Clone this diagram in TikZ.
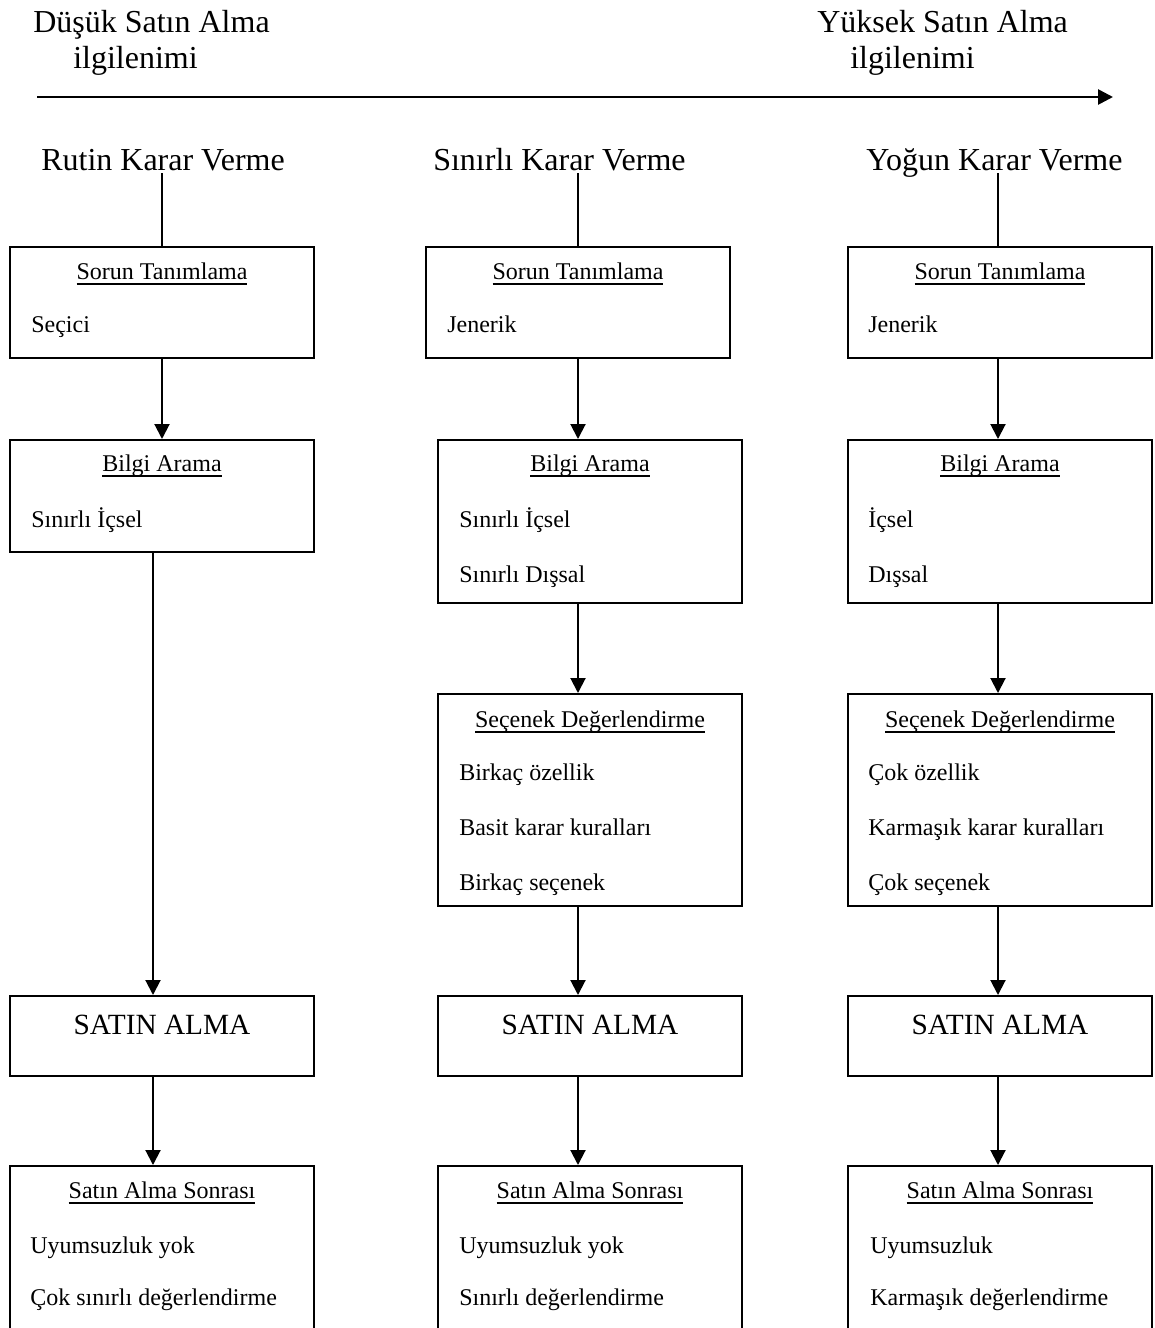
\documentclass[tikz,border=0pt]{standalone}
\usepackage{fontspec}
\setmainfont{Liberation Serif}
\usetikzlibrary{arrows.meta}

% underline drawn a fixed distance below the baseline
\newcommand\hdline[1]{\setbox0\hbox{#1}\rlap{\rule[-4.2pt]{\wd0}{0.9pt}}\box0}

\tikzset{
  panel/.style={draw, line width=1.5pt, inner sep=0pt},
  link/.style={line width=1.5pt},
  flow/.style={line width=1.5pt, -{Triangle[length=11.25pt,width=11.25pt]}},
  axis/.style={line width=2pt, -{Triangle[length=11.25pt,width=11.25pt]}},
  bigtxt/.style={inner sep=0pt, font=\fontsize{24}{28}\selectfont},
  txt/.style={inner sep=0pt, font=\fontsize{18}{22}\selectfont},
  buytxt/.style={inner sep=0pt, font=\fontsize{22}{26}\selectfont},
}

% box given by its left, top, right and bottom edges
\newcommand\panelbox[5]{%
  \node[panel, minimum width={(#4-#2)*0.75pt}, minimum height={(#5-#3)*0.75pt}]
    (#1) at ({(#2+#4)/2},{(#3+#5)/2}) {};}
\newcommand\heading[4]{\node[txt, anchor=base] (#1) at (#2,#3) {\hdline{#4}};}
\newcommand\itm[4]{\node[txt, anchor=base west] (#1) at (#2,#3) {#4};}

\begin{document}
\begin{tikzpicture}[x=0.75pt, y=-0.75pt]
\useasboundingbox (0,0) rectangle (1154,1328);
\fill[white] (0,0) rectangle (1154,1328);
\clip (0,0) rectangle (1154,1328);

% involvement scale
\node[bigtxt, anchor=base west] (low1) at (33,32) {Düşük Satın Alma};
\node[bigtxt, anchor=base west] (low2) at (73,68) {ilgilenimi};
\node[bigtxt, anchor=base west] (high1) at (817,32) {Yüksek Satın Alma};
\node[bigtxt, anchor=base west] (high2) at (850,68) {ilgilenimi};
\coordinate (lowend) at (37,97);
\coordinate (highend) at (1113,97);
\draw[axis] (lowend) -- (highend);

% column headings
\node[bigtxt, anchor=base west] (h1) at (41,170) {Rutin Karar Verme};
\node[bigtxt, anchor=base west] (h2) at (433,170) {Sınırlı Karar Verme};
\node[bigtxt, anchor=base west] (h3) at (866,170) {Yoğun Karar Verme};

% ---------- routine ----------
\panelbox{s1}{10}{247}{314}{358}
\heading{s1t}{162}{279}{Sorun Tanımlama}
\itm{s1a}{31}{332}{Seçici}

\panelbox{b1}{10}{440}{314}{552}
\heading{b1t}{162}{471}{Bilgi Arama}
\itm{b1a}{31}{527}{Sınırlı İçsel}

\panelbox{p1}{10}{996}{314}{1076}
\node[buytxt, anchor=base] (p1t) at (162,1034) {SATIN ALMA};

\panelbox{a1}{10}{1166}{314}{1400}
\heading{a1t}{162}{1198}{Satın Alma Sonrası}
\itm{a1a}{30}{1253}{Uyumsuzluk yok}
\itm{a1b}{30}{1305}{Çok sınırlı değerlendirme}

% ---------- limited ----------
\panelbox{s2}{426}{247}{730}{358}
\heading{s2t}{578}{279}{Sorun Tanımlama}
\itm{s2a}{447}{332}{Jenerik}

\panelbox{b2}{438}{440}{742}{603}
\heading{b2t}{590}{471}{Bilgi Arama}
\itm{b2a}{459}{527}{Sınırlı İçsel}
\itm{b2b}{459}{582}{Sınırlı Dışsal}

\panelbox{e2}{438}{694}{742}{906}
\heading{e2t}{590}{727}{Seçenek Değerlendirme}
\itm{e2a}{459}{780}{Birkaç özellik}
\itm{e2b}{459}{835}{Basit karar kuralları}
\itm{e2c}{459}{890}{Birkaç seçenek}

\panelbox{p2}{438}{996}{742}{1076}
\node[buytxt, anchor=base] (p2t) at (590,1034) {SATIN ALMA};

\panelbox{a2}{438}{1166}{742}{1400}
\heading{a2t}{590}{1198}{Satın Alma Sonrası}
\itm{a2a}{459}{1253}{Uyumsuzluk yok}
\itm{a2b}{459}{1305}{Sınırlı değerlendirme}

% ---------- extended ----------
\panelbox{s3}{848}{247}{1152}{358}
\heading{s3t}{1000}{279}{Sorun Tanımlama}
\itm{s3a}{868}{332}{Jenerik}

\panelbox{b3}{848}{440}{1152}{603}
\heading{b3t}{1000}{471}{Bilgi Arama}
\itm{b3a}{868}{527}{İçsel}
\itm{b3b}{868}{582}{Dışsal}

\panelbox{e3}{848}{694}{1152}{906}
\heading{e3t}{1000}{727}{Seçenek Değerlendirme}
\itm{e3a}{868}{780}{Çok özellik}
\itm{e3b}{868}{835}{Karmaşık karar kuralları}
\itm{e3c}{868}{890}{Çok seçenek}

\panelbox{p3}{848}{996}{1152}{1076}
\node[buytxt, anchor=base] (p3t) at (1000,1034) {SATIN ALMA};

\panelbox{a3}{848}{1166}{1152}{1400}
\heading{a3t}{1000}{1198}{Satın Alma Sonrası}
\itm{a3a}{870}{1253}{Uyumsuzluk}
\itm{a3b}{870}{1305}{Karmaşık değerlendirme}

% ---------- connectors ----------
\draw[link] (s1.north) -- ([yshift=-2.25pt]s1.north |- h1.base);
\draw[link] (s2.north) -- ([yshift=-2.25pt]s2.north |- h2.base);
\draw[link] ([xshift=-1.5pt]s3.north) -- ([xshift=-1.5pt,yshift=-2.25pt]s3.north |- h3.base);

\draw[flow] (s1.south) -- (s1.south |- b1.north);
\draw[flow] ([xshift=-6.75pt]b1.south) -- ([xshift=-6.75pt]b1.south |- p1.north);
\draw[flow] ([xshift=-6.75pt]p1.south) -- ([xshift=-6.75pt]p1.south |- a1.north);

\draw[flow] (s2.south) -- (s2.south |- b2.north);
\draw[flow] ([xshift=-9pt]b2.south) -- ([xshift=-9pt]e2.north);
\draw[flow] ([xshift=-9pt]e2.south) -- ([xshift=-9pt]p2.north);
\draw[flow] ([xshift=-9pt]p2.south) -- ([xshift=-9pt]a2.north);

\draw[flow] ([xshift=-1.5pt]s3.south) -- ([xshift=-1.5pt]b3.north);
\draw[flow] ([xshift=-1.5pt]b3.south) -- ([xshift=-1.5pt]e3.north);
\draw[flow] ([xshift=-1.5pt]e3.south) -- ([xshift=-1.5pt]p3.north);
\draw[flow] ([xshift=-1.5pt]p3.south) -- ([xshift=-1.5pt]a3.north);
\end{tikzpicture}
\end{document}
